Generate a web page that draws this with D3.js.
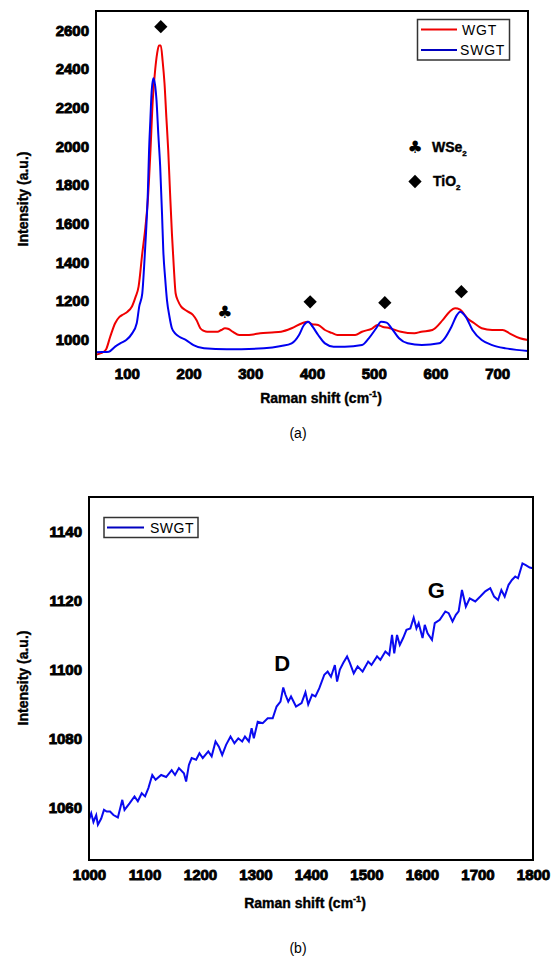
<!DOCTYPE html>
<html>
<head>
<meta charset="utf-8">
<script src="https://cdn.jsdelivr.net/npm/d3@7"></script>
<style>
body { margin: 0; background: #fff; }
svg { display: block; }
text { font-family: "Liberation Sans", Arial, sans-serif; }
</style>
</head>
<body>
<div id="chart"></div>
<script>
// panel (a): Raman spectra of WGT and SWGT, 50-750 cm-1
var wgtShift = [50, 58, 66, 73, 81, 88, 94, 101, 108, 114, 119, 125, 130, 134, 138, 142, 146, 149, 152, 155, 158, 161, 164, 167, 170, 173, 176, 179, 183, 188, 194, 199, 207, 213, 219, 225, 230, 247, 253, 259, 265, 272, 282, 292, 305, 316, 335, 350, 367, 384, 393, 400, 410, 421, 432, 441, 470, 481, 498, 506, 514, 526, 544, 566, 577, 595, 612, 623, 632, 640, 652, 663, 675, 692, 709, 720, 737, 750];
var wgtIntensity = [922, 930, 948, 1015, 1085, 1118, 1130, 1145, 1170, 1220, 1274, 1447, 1580, 1722, 1960, 2240, 2400, 2480, 2522, 2522, 2440, 2326, 2150, 1981, 1760, 1550, 1380, 1240, 1200, 1171, 1155, 1145, 1128, 1100, 1059, 1045, 1041, 1041, 1050, 1059, 1055, 1040, 1024, 1024, 1027, 1033, 1037, 1041, 1059, 1085, 1093, 1080, 1076, 1050, 1035, 1024, 1024, 1041, 1059, 1076, 1067, 1059, 1041, 1033, 1041, 1050, 1102, 1145, 1162, 1155, 1110, 1085, 1059, 1050, 1050, 1033, 1007, 998];

var swgtShift = [50, 60, 71, 81, 91, 99, 108, 116, 120, 125, 128, 131, 134, 136, 138, 140, 143, 146, 148, 151, 154, 157, 159, 162, 165, 169, 173, 179, 185, 196, 208, 225, 262, 322, 350, 367, 379, 387, 394, 401, 410, 421, 435, 453, 481, 492, 504, 512, 521, 529, 541, 555, 578, 606, 615, 626, 635, 640, 649, 660, 675, 692, 714, 750];
var swgtIntensity = [935, 936, 938, 964, 984, 998, 1030, 1085, 1171, 1240, 1380, 1550, 1760, 1981, 2130, 2274, 2352, 2310, 2240, 2060, 1895, 1650, 1464, 1320, 1205, 1120, 1059, 1030, 1015, 998, 972, 955, 950, 955, 967, 981, 1024, 1076, 1093, 1067, 1024, 981, 964, 964, 972, 1007, 1059, 1093, 1088, 1059, 1007, 981, 972, 981, 1007, 1067, 1128, 1145, 1119, 1050, 998, 972, 955, 942];

var xTicksA = [100, 200, 300, 400, 500, 600, 700];
var yTicksA = [1000, 1200, 1400, 1600, 1800, 2000, 2200, 2400, 2600];

// peak markers in panel (a)
var tio2Shift = [155, 397, 518, 642];
var tio2Level = [2619, 1196, 1191, 1248];
var wse2Shift = [259];
var wse2Level = [1145];

// panel (b): SWGT, 1000-1800 cm-1
var swgtShiftB = [1000, 1004, 1008, 1013, 1016, 1022, 1027, 1032, 1038, 1044, 1052, 1057, 1060, 1064, 1073, 1082, 1088, 1095, 1101, 1107, 1114, 1120, 1130, 1139, 1149, 1155, 1162, 1171, 1175, 1180, 1185, 1193, 1199, 1205, 1215, 1221, 1228, 1234, 1240, 1247, 1255, 1262, 1269, 1276, 1281, 1288, 1293, 1297, 1304, 1313, 1322, 1331, 1338, 1345, 1350, 1354, 1359, 1364, 1373, 1383, 1390, 1395, 1402, 1408, 1415, 1424, 1430, 1436, 1443, 1447, 1452, 1458, 1465, 1470, 1477, 1484, 1493, 1503, 1509, 1519, 1525, 1534, 1541, 1546, 1550, 1555, 1560, 1566, 1572, 1579, 1585, 1590, 1594, 1601, 1605, 1610, 1618, 1623, 1632, 1642, 1648, 1655, 1661, 1666, 1672, 1679, 1686, 1696, 1705, 1714, 1723, 1730, 1737, 1743, 1749, 1756, 1762, 1768, 1773, 1781, 1787, 1794, 1800];
var swgtIntensityB = [1056.6, 1058.5, 1056, 1058, 1055.2, 1057, 1059.5, 1059, 1059, 1058, 1057.3, 1060.5, 1062.4, 1059.5, 1061.4, 1063.4, 1062, 1064.3, 1063.4, 1065.8, 1069.6, 1068.2, 1069.6, 1069, 1071, 1069.6, 1071.6, 1070.1, 1067.7, 1072.5, 1074.5, 1074, 1075.9, 1074.5, 1076.4, 1075, 1079.3, 1077.8, 1075.4, 1078.3, 1080.7, 1078.8, 1080.2, 1079.3, 1080.7, 1079.3, 1083.1, 1080.2, 1085, 1084.6, 1086, 1086, 1089.4, 1090.8, 1094.9, 1092.8, 1090.8, 1092.3, 1089.4, 1090.4, 1093.5, 1090, 1092.8, 1092.3, 1094.7, 1098.6, 1099.5, 1098, 1101.4, 1096.6, 1100.1, 1102, 1103.9, 1102, 1099, 1101, 1099.5, 1102.4, 1101.4, 1103.9, 1102.9, 1105.3, 1104.3, 1110.1, 1104.8, 1110.1, 1107.2, 1109.2, 1111.6, 1112, 1115.1, 1112, 1113.5, 1109.2, 1113, 1110.6, 1108.7, 1113.5, 1114.5, 1116.9, 1116.4, 1114, 1115.9, 1116.9, 1123.1, 1118.3, 1120.7, 1119.8, 1121.2, 1122.7, 1123.6, 1121.2, 1120.2, 1123.1, 1121.2, 1124.6, 1126, 1127, 1126.5, 1130.8, 1130.3, 1129.6, 1129.4];

var xTicksB = [1000, 1100, 1200, 1300, 1400, 1500, 1600, 1700, 1800];
var yTicksB = [1060, 1080, 1100, 1120, 1140];

var bandLabel = ["D", "G"];
var bandShift = [1348, 1626];
var bandLevel = [1102, 1123];

var svg = d3.select("#chart")
    .append("svg")
    .attr("width", 551)
    .attr("height", 957);

var fmt = d3.format("d");

function tickStyle(g) {
    g.select(".domain").remove();
    g.selectAll("text")
        .style("font-size", "15px")
        .style("font-weight", "bold")
        .style("fill", "#000")
        .style("stroke", "#000")
        .style("stroke-width", "0.9px");
}

function axisTitle(x, y, vertical) {
    var t = svg.append("text")
        .attr("text-anchor", "middle")
        .style("font-size", "14px").style("font-weight", "bold")
        .style("stroke", "#000").style("stroke-width", "0.4px");
    if (vertical) {
        t.attr("transform", "translate(" + x + "," + y + ") rotate(-90)")
            .text("Intensity (a.u.)");
    } else {
        t.attr("x", x).attr("y", y);
        t.append("tspan").text("Raman shift (cm");
        t.append("tspan").attr("dy", -6).style("font-size", "9px").text("-1");
        t.append("tspan").attr("dy", 6).text(")");
    }
}

// ---------- panel (a) ----------
var xa = d3.scaleLinear().domain([50, 750]).range([96, 528]);
var ya = d3.scaleLinear().domain([900, 2700]).range([359, 11]);

svg.append("g")
    .attr("transform", "translate(0,359)")
    .call(d3.axisBottom(xa).tickValues(xTicksA).tickFormat(fmt).tickSize(0).tickPadding(9))
    .call(tickStyle);

svg.append("g")
    .attr("transform", "translate(96,0)")
    .call(d3.axisLeft(ya).tickValues(yTicksA).tickFormat(fmt).tickSize(0).tickPadding(7))
    .call(tickStyle);

var lineA = function (xs, ys) {
    return d3.line()
        .x(function (d, i) { return xa(xs[i]); })
        .y(function (d, i) { return ya(ys[i]); })
        .curve(d3.curveMonotoneX)(xs);
};

svg.append("clipPath").attr("id", "clipA")
    .append("rect").attr("x", 96).attr("y", 11).attr("width", 432).attr("height", 348);

svg.append("path")
    .attr("d", lineA(wgtShift, wgtIntensity))
    .attr("clip-path", "url(#clipA)")
    .style("fill", "none")
    .style("stroke", "#f00000")
    .style("stroke-width", 2);

svg.append("path")
    .attr("d", lineA(swgtShift, swgtIntensity))
    .attr("clip-path", "url(#clipA)")
    .style("fill", "none")
    .style("stroke", "#0000f0")
    .style("stroke-width", 2);

svg.append("rect")
    .attr("x", 96).attr("y", 11).attr("width", 432).attr("height", 348)
    .style("fill", "none").style("stroke", "#000").style("stroke-width", 2);

// peak markers
var diamond = d3.symbol().type(d3.symbolSquare).size(88);
svg.selectAll(".tio2")
    .data(tio2Shift)
    .enter()
    .append("path")
    .attr("class", "tio2")
    .attr("d", diamond)
    .attr("transform", function (d, i) { return "translate(" + xa(d) + "," + ya(tio2Level[i]) + ") rotate(45)"; })
    .style("fill", "#000");

svg.selectAll(".wse2")
    .data(wse2Shift)
    .enter()
    .append("text")
    .attr("class", "wse2")
    .attr("x", function (d) { return xa(d); })
    .attr("y", function (d, i) { return ya(wse2Level[i]) + 6; })
    .attr("text-anchor", "middle")
    .style("font-family", "'DejaVu Sans', sans-serif")
    .style("font-size", "17px")
    .text("\u2663");

// symbol key
svg.append("text")
    .attr("x", 415).attr("y", 153)
    .attr("text-anchor", "middle")
    .style("font-family", "'DejaVu Sans', sans-serif")
    .style("font-size", "17px")
    .text("\u2663");
var k1 = svg.append("text").attr("x", 432).attr("y", 152)
    .style("font-size", "14px").style("font-weight", "bold")
    .style("stroke", "#000").style("stroke-width", "0.4px");
k1.append("tspan").text("WSe");
k1.append("tspan").attr("dy", 4).style("font-size", "8px").text("2");

svg.append("path")
    .attr("d", diamond)
    .attr("transform", "translate(415,181.5) rotate(45)")
    .style("fill", "#000");
var k2 = svg.append("text").attr("x", 433).attr("y", 186)
    .style("font-size", "14px").style("font-weight", "bold")
    .style("stroke", "#000").style("stroke-width", "0.4px");
k2.append("tspan").text("TiO");
k2.append("tspan").attr("dy", 4).style("font-size", "8px").text("2");

// legend (a)
svg.append("rect")
    .attr("x", 417.5).attr("y", 19.5).attr("width", 92).attr("height", 40.5)
    .style("fill", "#fff").style("stroke", "#333").style("stroke-width", 1.5);
var legA = [["WGT", "#f00000", 29.5], ["SWGT", "#0000c0", 50]];
legA.forEach(function (l) {
    svg.append("line")
        .attr("x1", 421).attr("x2", 457).attr("y1", l[2]).attr("y2", l[2])
        .style("stroke", l[1]).style("stroke-width", 2);
    svg.append("text")
        .attr("x", l[0] == "WGT" ? 462 : 460).attr("y", l[2] + 5)
        .style("font-size", "14px")
        .style("letter-spacing", "0.8px")
        .text(l[0]);
});

axisTitle(28, 199, true);
axisTitle(321, 403, false);

svg.append("text")
    .attr("x", 298).attr("y", 438)
    .attr("text-anchor", "middle")
    .style("font-size", "14px")
    .text("(a)");

// ---------- panel (b) ----------
var xb = d3.scaleLinear().domain([1000, 1800]).range([89, 533]);
var yb = d3.scaleLinear().domain([1045, 1150]).range([860, 497]);

svg.append("g")
    .attr("transform", "translate(0,860)")
    .call(d3.axisBottom(xb).tickValues(xTicksB).tickFormat(fmt).tickSize(0).tickPadding(9))
    .call(tickStyle);

svg.append("g")
    .attr("transform", "translate(89,0)")
    .call(d3.axisLeft(yb).tickValues(yTicksB).tickFormat(fmt).tickSize(0).tickPadding(7))
    .call(tickStyle);

var lineB = d3.line()
    .x(function (d, i) { return xb(swgtShiftB[i]); })
    .y(function (d, i) { return yb(swgtIntensityB[i]); });

svg.append("path")
    .attr("d", lineB(swgtShiftB))
    .style("fill", "none")
    .style("stroke", "#0a0af0")
    .style("stroke-width", 2);

svg.append("rect")
    .attr("x", 89).attr("y", 497).attr("width", 444).attr("height", 363)
    .style("fill", "none").style("stroke", "#000").style("stroke-width", 2);

svg.selectAll(".band")
    .data(bandLabel)
    .enter()
    .append("text")
    .attr("class", "band")
    .attr("x", function (d, i) { return xb(bandShift[i]); })
    .attr("y", function (d, i) { return yb(bandLevel[i]) + 8; })
    .attr("text-anchor", "middle")
    .style("font-size", "22px").style("font-weight", "bold")
    .text(function (d) { return d; });

// legend (b)
svg.append("rect")
    .attr("x", 104).attr("y", 517.5).attr("width", 94).attr("height", 20)
    .style("fill", "#fff").style("stroke", "#333").style("stroke-width", 1.5);
svg.append("line")
    .attr("x1", 107).attr("x2", 144).attr("y1", 527.5).attr("y2", 527.5)
    .style("stroke", "#0000c0").style("stroke-width", 2);
svg.append("text")
    .attr("x", 150).attr("y", 532.5)
    .style("font-size", "14px")
    .style("letter-spacing", "0.5px")
    .text("SWGT");

axisTitle(28, 678, true);
axisTitle(305, 908, false);

svg.append("text")
    .attr("x", 298).attr("y", 953)
    .attr("text-anchor", "middle")
    .style("font-size", "14px")
    .text("(b)");
</script>
</body>
</html>
